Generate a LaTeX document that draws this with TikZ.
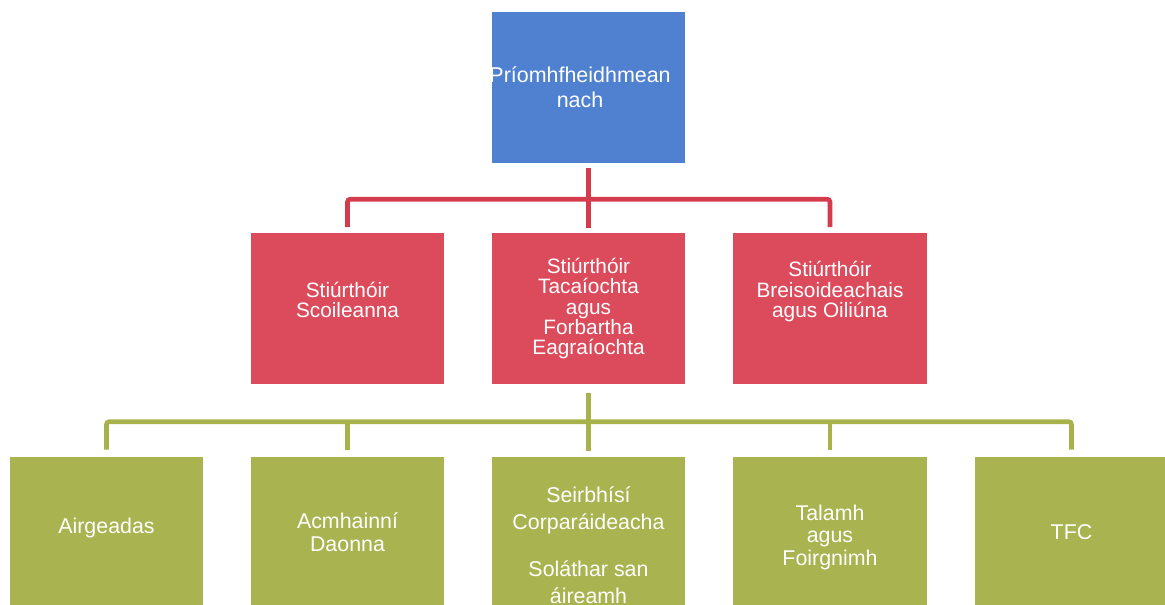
\documentclass[tikz,border=0pt]{standalone}
\usepackage{fontspec}
\setmainfont{Liberation Sans}
\usetikzlibrary{calc}
\definecolor{topblue}{HTML}{4F81D0}
\definecolor{dirred}{HTML}{DC4B5B}
\definecolor{unitgreen}{HTML}{A9B350}
\definecolor{redlinecol}{HTML}{D43C4D}
\definecolor{greenlinecol}{HTML}{A8B24A}
\begin{document}
\begin{tikzpicture}[x=0.025cm, y=-0.025cm,
  box/.style={minimum width=4.825cm, minimum height=3.75cm, inner sep=0pt, align=center, text=white},
  ceobox/.style={box, fill=topblue, font=\fontsize{15.25}{17.5}\selectfont},
  dirbox/.style={box, fill=dirred, font=\fontsize{14.8}{14.4}\selectfont},
  unitbox/.style={box, fill=unitgreen, font=\fontsize{15.2}{16}\selectfont},
  redlink/.style={draw=redlinecol, line width=3.3pt, rounded corners=2pt},
  greenlink/.style={draw=greenlinecol, line width=3.3pt, rounded corners=2pt}]
  \useasboundingbox (0,0) rectangle (1165,605);
  % top
  \node[ceobox] (ceo) at (588.5,87.5) {\hspace*{-12pt}Príomhfheidhmean\\\hspace*{-12pt}nach};
  % directors
  \node[dirbox, text depth=0.45cm] (r1) at (347.5,308.5) {Stiúrthóir\\Scoileanna};
  \node[dirbox] (r2) at (588.5,308.5) {Stiúrthóir\\Tacaíochta\\agus\\Forbartha\\Eagraíochta};
  \node[dirbox, text depth=0.95cm] (r3) at (830,308.5) {Stiúrthóir\\Breisoideachais\\agus Oiliúna};
  % units
  \node[unitbox, text depth=0.3cm] (g1) at (106.5,532) {Airgeadas};
  \node[unitbox] (g2) at (347.5,532) {Acmhainní\\Daonna};
  \node[unitbox] (g3) at (588.5,532) {};
  \node[anchor=north, align=center, text=white, inner sep=0pt, font=\fontsize{15.2}{18.8}\selectfont] (g3txt) at ($(g3.north)+(0,30)$) {Seirbhísí\\Corparáideacha\\[15pt]Soláthar san\\áireamh};
  \node[unitbox, text height=1.77cm] (g4) at (830,532) {Talamh\\agus\\Foirgnimh};
  \node[unitbox] (g5) at (1071.5,532) {TFC};
  % links
  \draw[redlink] ($(ceo.south)+(0,5)$) -- ($(r2.north)+(0,-5)$);
  \draw[redlink] ($(r1.north)+(0,-6)$) |- ($(r2.north)+(0,-34)$) -| ($(r3.north)+(0,-6)$);
  \draw[greenlink] ($(r2.south)+(0,9)$) -- ($(g3.north)+(0,-6)$);
  \draw[greenlink] ($(g1.north)+(0,-7)$) |- ($(g3.north)+(0,-35)$) -| ($(g5.north)+(0,-7)$);
  \draw[greenlink] ($(g2.north)+(0,-7)$) -- ($(g2.north)+(0,-35)$);
  \draw[greenlink] ($(g4.north)+(0,-7)$) -- ($(g4.north)+(0,-35)$);
\end{tikzpicture}
\end{document}
